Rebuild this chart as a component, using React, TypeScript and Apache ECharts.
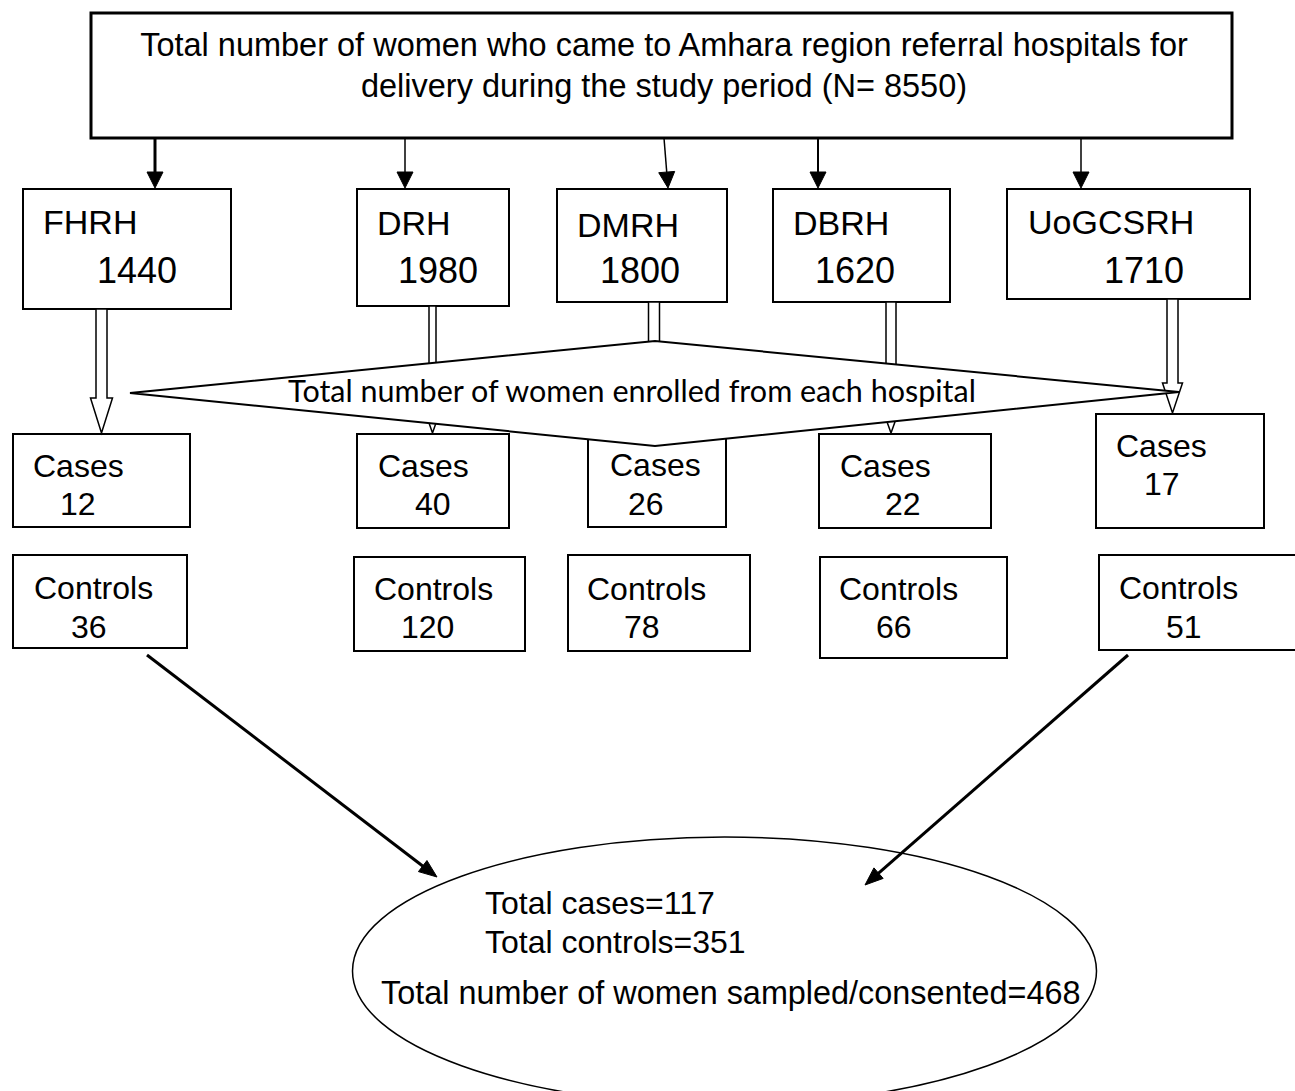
import React, { useEffect, useRef } from 'react';
import * as echarts from 'echarts';

// ---------- data ----------
const TITLE_LINES = [
  'Total number of women who came to Amhara region referral hospitals for',
  'delivery during the study period (N= 8550)',
];
const HOSPITALS = ['FHRH', 'DRH', 'DMRH', 'DBRH', 'UoGCSRH'];
const DELIVERIES = [1440, 1980, 1800, 1620, 1710];
const CASES = [12, 40, 26, 22, 17];
const CONTROLS = [36, 120, 78, 66, 51];
const ENROLL_LABEL = 'Total number of women enrolled from each hospital';
const TOTAL_CASES = 117;
const TOTAL_CONTROLS = 351;
const TOTAL_SAMPLED = 468;

// ---------- layout (pixels) ----------
// boxes: [x0, y0, x1, y1]
const TOP_BOX = [91, 13, 1232, 138];
const HOSP_BOX = [[23, 189, 231, 309], [357, 189, 509, 306], [557, 189, 727, 302], [773, 189, 950, 302], [1007, 189, 1250, 299]];
const HOSP_NAME_POS = [[43, 234], [377, 235], [577, 237], [793, 235], [1028, 234]];
const HOSP_NUM_POS = [[97, 283], [398, 283], [600, 283], [815, 283], [1104, 283]];
const CASE_BOX = [[13, 434, 190, 527], [357, 434, 509, 528], [588, 434, 726, 527], [819, 434, 991, 528], [1096, 414, 1264, 528]];
const CASE_LABEL_POS = [[33, 477], [378, 477], [610, 476], [840, 477], [1116, 457]];
const CASE_NUM_POS = [[60, 515], [415, 515], [628, 515], [885, 515], [1144, 495]];
const CTRL_BOX = [[13, 555, 187, 648], [354, 557, 525, 651], [568, 555, 750, 651], [820, 557, 1007, 658], [1099, 555, 1300, 650]];
const CTRL_LABEL_POS = [[34, 599], [374, 600], [587, 600], [839, 600], [1119, 599]];
const CTRL_NUM_POS = [[71, 638], [401, 638], [624, 638], [876, 638], [1166, 638]];
// [x1, y1, x2, y2, lineWidth]
const TOP_ARROWS = [[155, 138, 155, 188, 3], [405, 138, 405, 188, 1.5], [664, 138, 668, 188, 1.5], [818, 138, 818, 188, 2], [1081, 138, 1081, 188, 1.5]];
// [cx, top, shaftHalf, headHalf, headStartY, tipY]
const BLOCK_ARROWS = [[101.5, 309, 5.5, 11, 398, 433], [432.5, 306, 3.5, 8, 410, 433], [654, 302, 5.5, 11, 405, 440], [891, 302, 5, 10, 405, 433], [1172.5, 299, 5.5, 10, 383, 413]];
const DIAMOND = [[130, 393], [655, 341], [1179, 392], [655, 446]];
const DIAG_ARROWS = [[147, 655, 437, 877], [1128, 655, 865, 885]];
const ELLIPSE = { cx: 724.5, cy: 971, rx: 372, ry: 134 };

const SANS = '"Liberation Sans", Arial, sans-serif';
const LATO = 'Lato, "Open Sans", sans-serif';

function txt(s: string, x: number, baseline: number, size: number, align = 'left', family = SANS, central = 0.3465) {
  return {
    type: 'text',
    x,
    y: baseline - size * central,
    z: 10,
    style: {
      text: s,
      fontSize: size,
      fontFamily: family,
      fill: '#000',
      align,
      verticalAlign: 'middle',
      textAlign: align,
      textVerticalAlign: 'middle',
    },
  };
}

function rect(b: number[], lw = 2, z = 1) {
  return {
    type: 'rect',
    z,
    shape: { x: b[0], y: b[1], width: b[2] - b[0], height: b[3] - b[1] },
    style: { fill: '#fff', stroke: '#000', lineWidth: lw },
  };
}

function arrowWithHead(x1: number, y1: number, x2: number, y2: number, lw: number, len: number, w: number) {
  const dx = x2 - x1, dy = y2 - y1;
  const L = Math.hypot(dx, dy);
  const ux = dx / L, uy = dy / L;
  const bx = x2 - ux * len, by = y2 - uy * len;
  const px = -uy, py = ux;
  return [
    { type: 'line', z: 3, shape: { x1, y1, x2: x2 - ux * len * 0.5, y2: y2 - uy * len * 0.5 }, style: { stroke: '#000', lineWidth: lw } },
    {
      type: 'polygon', z: 3,
      shape: { points: [[x2, y2], [bx + px * w / 2, by + py * w / 2], [bx - px * w / 2, by - py * w / 2]] },
      style: { fill: '#000', stroke: '#000', lineWidth: 1 },
    },
  ];
}

function buildElements() {
  const els: any[] = [];
  // top box
  els.push(rect(TOP_BOX, 3));
  els.push(txt(TITLE_LINES[0], 664, 56, 32.5, 'center'));
  els.push(txt(TITLE_LINES[1], 664, 97, 32.5, 'center'));

  HOSPITALS.forEach((name, i) => {
    const a = TOP_ARROWS[i];
    els.push(...arrowWithHead(a[0], a[1], a[2], a[3], a[4], 16, 16));
    els.push(rect(HOSP_BOX[i], 2));
    els.push(txt(name, HOSP_NAME_POS[i][0], HOSP_NAME_POS[i][1], 34));
    els.push(txt(String(DELIVERIES[i]), HOSP_NUM_POS[i][0], HOSP_NUM_POS[i][1], 36));

    els.push(rect(CASE_BOX[i], 2));
    els.push(txt('Cases', CASE_LABEL_POS[i][0], CASE_LABEL_POS[i][1], 32));
    els.push(txt(String(CASES[i]), CASE_NUM_POS[i][0], CASE_NUM_POS[i][1], 32));

    els.push(rect(CTRL_BOX[i], 2));
    els.push(txt('Controls', CTRL_LABEL_POS[i][0], CTRL_LABEL_POS[i][1], 32));
    els.push(txt(String(CONTROLS[i]), CTRL_NUM_POS[i][0], CTRL_NUM_POS[i][1], 32));

    const b = BLOCK_ARROWS[i];
    const [cx, top, s, h, hy, tip] = b;
    els.push({
      type: 'polygon', z: 4,
      shape: { points: [[cx - s, top], [cx + s, top], [cx + s, hy], [cx + h, hy], [cx, tip], [cx - h, hy], [cx - s, hy]] },
      style: { fill: '#fff', stroke: '#000', lineWidth: 1.5 },
    });
  });

  // diamond
  els.push({
    type: 'polygon', z: 6,
    shape: { points: DIAMOND },
    style: { fill: '#fff', stroke: '#000', lineWidth: 2 },
  });
  const t = txt(ENROLL_LABEL, 632, 402, 30.5, 'center', LATO, 0.387);
  t.z = 12;
  els.push(t);

  // diagonal arrows
  DIAG_ARROWS.forEach((d) => els.push(...arrowWithHead(d[0], d[1], d[2], d[3], 3, 18, 14)));

  // ellipse
  els.push({
    type: 'ellipse', z: 5,
    shape: ELLIPSE,
    style: { fill: 'transparent', stroke: '#000', lineWidth: 1.5 },
  });
  els.push(txt('Total cases=' + TOTAL_CASES, 485, 914, 32));
  els.push(txt('Total controls=' + TOTAL_CONTROLS, 485, 953, 32));
  els.push(txt('Total number of women sampled/consented=' + TOTAL_SAMPLED, 381, 1004, 32.4));
  return els;
}

export default function App() {
  const ref = useRef<HTMLDivElement>(null);
  useEffect(() => {
    document.body.style.margin = '0';
    const chart = echarts.init(ref.current!, null, { renderer: 'svg' });
    chart.setOption({
      animation: false,
      backgroundColor: '#ffffff',
      graphic: { elements: buildElements() },
    });
    return () => chart.dispose();
  }, []);
  return <div ref={ref} style={{ width: 1295, height: 1091 }} />;
}
